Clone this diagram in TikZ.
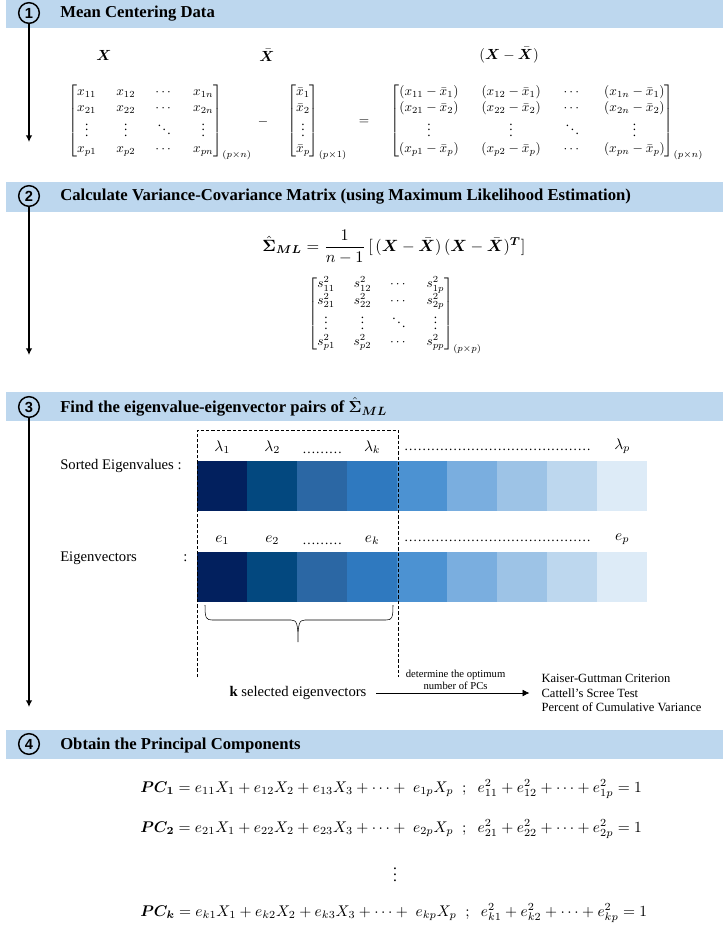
\documentclass[tikz,border=0pt]{standalone}
\usepackage{amsmath}
\usepackage{amssymb}
\usepackage{bm}
\usepackage{fontspec}
\setmainfont{Liberation Serif}
\newfontfamily\numfont{Liberation Sans}
\usepackage{tikz}
\usetikzlibrary{positioning, arrows.meta, calc}

\definecolor{headblue}{HTML}{BDD7EE}
\definecolor{c1}{HTML}{02205E}
\definecolor{c2}{HTML}{03487F}
\definecolor{c3}{HTML}{2B67A4}
\definecolor{c4}{HTML}{2F79BF}
\definecolor{c5}{HTML}{4C92D2}
\definecolor{c6}{HTML}{7AAEDF}
\definecolor{c7}{HTML}{9DC3E6}
\definecolor{c8}{HTML}{BDD7EE}
\definecolor{c9}{HTML}{DDEBF7}

\begin{document}
\begin{tikzpicture}[x=0.75pt, y=-0.75pt,
        stepnum/.style={circle, draw, line width=1.1pt, inner sep=0pt, minimum size=15.5pt, font=\numfont\bfseries\fontsize{11}{11}\selectfont},
        headtext/.style={anchor=west, inner sep=0pt, font=\bfseries\fontsize{12.5}{14}\selectfont},
        flow/.style={line width=1.1pt, -{Latex[length=5pt, width=5pt]}},
        cell/.style={anchor=north west, minimum width=37.5pt, minimum height=37.5pt, inner sep=0pt, draw=none},
        rowlabel/.style={anchor=west, inner sep=0pt, font=\fontsize{11}{13}\selectfont},
        smalltext/.style={font=\fontsize{8}{9}\selectfont, align=center, inner sep=2pt},
        critext/.style={anchor=west, align=left, inner sep=1pt, font=\fontsize{9.4}{11}\selectfont},
        eqn/.style={anchor=west, inner sep=0pt}]
    \fill[white] (0,0) rectangle (723,929);
    \useasboundingbox (0,0) rectangle (723,929);

    % Header bars
    \fill[headblue] (6,0) rectangle (723,28);
    \fill[headblue] (6,182) rectangle (723,212);
    \fill[headblue] (6,392) rectangle (723,421);
    \fill[headblue] (6,730) rectangle (723,759);

    % Step numbers and titles
    \node[stepnum] (n1) at (29,13) {1};
    \node[stepnum] (n2) at (29,196) {2};
    \node[stepnum] (n3) at (29,407) {3};
    \node[stepnum] (n4) at (29,744) {4};
    \node[headtext] (h1) at (60,14) {Mean Centering Data};
    \node[headtext] (h2) at (60,197) {Calculate Variance-Covariance Matrix (using Maximum Likelihood Estimation)};
    \node[headtext] (h3) at (60,407) {Find the eigenvalue-eigenvector pairs of $\hat{\bm{\Sigma}}_{\bm{M}\bm{L}}$};
    \node[headtext] (h4) at (60,745) {Obtain the Principal Components};

    % Flow arrows
    \coordinate (a1) at (29,142);
    \coordinate (a2) at (29,355);
    \coordinate (a3) at (29,707);
    \draw[flow] (n1) -- (a1);
    \draw[flow] (n2) -- (a2);
    \draw[flow] (n3) -- (a3);

    % Step 1
    \node (lblX) at (104,55) {\scalebox{1.1}{$\bm{X}$}};
    \node (lblXbar) at (267,55) {\scalebox{1.1}{$\bar{\bm{X}}$}};
    \node (lblXc) at (509,55) {\scalebox{1.1}{$(\bm{X}-\bar{\bm{X}})$}};
    \node[anchor=west, inner sep=0pt] (matX) at (68,122) {\setlength\arraycolsep{7.5pt}$\begin{bmatrix}
        x_{11} & x_{12} & \cdots & x_{1n}\\
        x_{21} & x_{22} & \cdots & x_{2n}\\
        \vdots & \vdots & \ddots & \vdots\\
        x_{p1} & x_{p2} & \cdots & x_{pn}
        \end{bmatrix}_{(p\times n)}$};
    \node (minus) at (263,122) {$-$};
    \node[anchor=west, inner sep=0pt] (vecXbar) at (287,122) {$\begin{bmatrix}
        \bar{x}_1\\ \bar{x}_2\\ \vdots\\ \bar{x}_p
        \end{bmatrix}_{(p\times 1)}$};
    \node (equal) at (364,122) {$=$};
    \node[anchor=west, inner sep=0pt] (matXc) at (390,122) {\setlength\arraycolsep{8.5pt}$\begin{bmatrix}
        (x_{11}-\bar{x}_1) & (x_{12}-\bar{x}_1) & \cdots & (x_{1n}-\bar{x}_1)\\
        (x_{21}-\bar{x}_2) & (x_{22}-\bar{x}_2) & \cdots & (x_{2n}-\bar{x}_2)\\
        \vdots & \vdots & \ddots & \vdots\\
        (x_{p1}-\bar{x}_p) & (x_{p2}-\bar{x}_p) & \cdots & (x_{pn}-\bar{x}_p)
        \end{bmatrix}_{(p\times n)}$};

    % Step 2
    \node (sigma) at (394,247) {\scalebox{1.22}{$\hat{\bm{\Sigma}}_{\bm{M}\bm{L}} = \dfrac{1}{n-1}\,[\,(\bm{X}-\bar{\bm{X}})\,(\bm{X}-\bar{\bm{X}})^{\bm{T}}]$}};
    \node (matS) at (395,315) {\setlength\arraycolsep{7pt}$\begin{bmatrix}
        s_{11}^2 & s_{12}^2 & \cdots & s_{1p}^2\\
        s_{21}^2 & s_{22}^2 & \cdots & s_{2p}^2\\
        \vdots & \vdots & \ddots & \vdots\\
        s_{p1}^2 & s_{p2}^2 & \cdots & s_{pp}^2
        \end{bmatrix}_{(p\times p)}$};

    % Step 3
    \node[rowlabel] (lblEval) at (60,466) {Sorted Eigenvalues :};
    \node[rowlabel] (lblEvec) at (60,558) {Eigenvectors};
    \node[rowlabel] (colon) at (183,558) {:};
    \foreach \c [count=\i] in {c1,c2,c3,c4,c5,c6,c7,c8,c9} {
        \node[cell, fill=\c] (eval\i) at ({197+50*(\i-1)},461) {};
        \node[cell, fill=\c] (evec\i) at ({197+50*(\i-1)},552) {};
    }
    \node[above=2pt of eval1] (lam1) {\scalebox{1.15}{$\lambda_1$}};
    \node[above=2pt of eval2] (lam2) {\scalebox{1.15}{$\lambda_2$}};
    \node[above=2pt of eval3] (lamdots) {\ldots\ldots\ldots};
    \node[above=2pt of eval4] (lamk) {\scalebox{1.15}{$\lambda_k$}};
    \node[above=2pt of eval9] (lamp) {\scalebox{1.15}{$\lambda_p$}};
    \node[above=4pt of eval6.north east] (lamrun) {\ldots\ldots\ldots\ldots\ldots\ldots\ldots\ldots\ldots\ldots\ldots\ldots\ldots\ldots};
    \node[above=2pt of evec1] (e1) {\scalebox{1.15}{$e_1$}};
    \node[above=2pt of evec2] (e2) {\scalebox{1.15}{$e_2$}};
    \node[above=2pt of evec3] (edots) {\ldots\ldots\ldots};
    \node[above=2pt of evec4] (ek) {\scalebox{1.15}{$e_k$}};
    \node[above=2pt of evec9] (ep) {\scalebox{1.15}{$e_p$}};
    \node[above=4pt of evec6.north east] (erun) {\ldots\ldots\ldots\ldots\ldots\ldots\ldots\ldots\ldots\ldots\ldots\ldots\ldots\ldots};

    % Selection window and brace
    \draw[dash pattern=on 2.5pt off 1.5pt] (197,677) -- (197,430) -- (398,430) -- (398,677);
    \draw (205,605) .. controls (205,618) and (206,620) .. (212,620) -- (291,620)
        .. controls (297,620) and (298,624) .. (298,642)
        .. controls (298,624) and (299,620) .. (305,620) -- (386,620)
        .. controls (392,620) and (393,618) .. (393,605);

    \node[font=\fontsize{11}{13}\selectfont] (ksel) at (298,693) {\textbf{k} selected eigenvectors};
    \node[critext] (crit) at (540,693) {Kaiser-Guttman Criterion\\Cattell's Scree Test\\Percent of Cumulative Variance};
    \draw[-{Latex[length=5pt, width=5pt]}, shorten <=4pt, shorten >=8pt] (ksel) -- (crit)
        node[midway, above, smalltext] {determine the optimum\\number of PCs};

    % Step 4
    \node[eqn] (pc1) at (140,789) {\scalebox{1.16}{$\bm{PC}_{\bm{1}} = e_{11}X_1 + e_{12}X_2 + e_{13}X_3 + \cdots +\; e_{1p}X_p \;\;;\;\; e_{11}^2 + e_{12}^2 + \cdots + e_{1p}^2 = 1$}};
    \node[eqn] (pc2) at (140,829) {\scalebox{1.16}{$\bm{PC}_{\bm{2}} = e_{21}X_1 + e_{22}X_2 + e_{23}X_3 + \cdots +\; e_{2p}X_p \;\;;\;\; e_{21}^2 + e_{22}^2 + \cdots + e_{2p}^2 = 1$}};
    \node (pcdots) at (395,870) {\scalebox{1.16}{$\vdots$}};
    \node[eqn] (pck) at (140,913) {\scalebox{1.16}{$\bm{PC}_{\bm{k}} = e_{k1}X_1 + e_{k2}X_2 + e_{k3}X_3 + \cdots +\; e_{kp}X_p \;\;;\;\; e_{k1}^2 + e_{k2}^2 + \cdots + e_{kp}^2 = 1$}};
\end{tikzpicture}
\end{document}
